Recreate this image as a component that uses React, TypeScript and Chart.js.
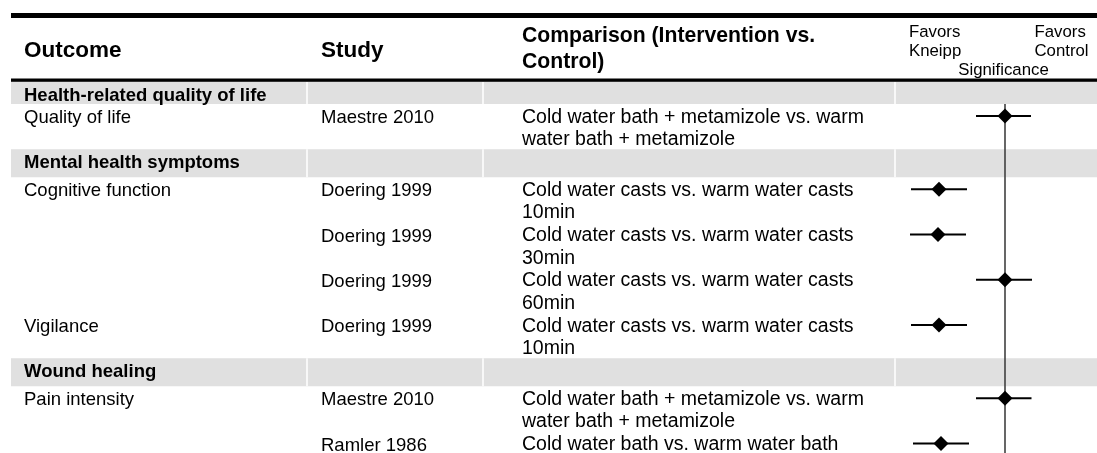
import React, { useEffect, useRef } from "react";
import { Chart, registerables } from "chart.js";

Chart.register(...registerables);

const W = 1097;
const H = 453;

// ---- data ----
const sections = ["Health-related quality of life", "Mental health symptoms", "Wound healing"];
const rowSection = [0, 1, 1, 1, 1, 2, 2];
const outcomes = ["Quality of life", "Cognitive function", "", "", "Vigilance", "Pain intensity", ""];
const studies = [
  "Maestre 2010",
  "Doering 1999",
  "Doering 1999",
  "Doering 1999",
  "Doering 1999",
  "Maestre 2010",
  "Ramler 1986",
];
const comparisons = [
  ["Cold water bath + metamizole vs. warm", "water bath + metamizole"],
  ["Cold water casts vs. warm water casts", "10min"],
  ["Cold water casts vs. warm water casts", "30min"],
  ["Cold water casts vs. warm water casts", "60min"],
  ["Cold water casts vs. warm water casts", "10min"],
  ["Cold water bath + metamizole vs. warm", "water bath + metamizole"],
  ["Cold water bath vs. warm water bath"],
];
const estimates = [0, -0.66, -0.67, 0, -0.66, 0, -0.64];
const lower = [-0.29, -0.94, -0.95, -0.29, -0.94, -0.29, -0.92];
const upper = [0.26, -0.38, -0.39, 0.27, -0.38, 0.265, -0.36];
const columnHeaders = ["Outcome", "Study"];
const comparisonHeader = ["Comparison (Intervention vs.", "Control)"];
const favorsLeft = ["Favors", "Kneipp"];
const favorsRight = ["Favors", "Control"];
const significanceLabel = "Significance";

// ---- layout / style ----
const FONT = '"Liberation Sans", Arial, Helvetica, sans-serif';
const COLS = [24, 321, 522];
const BAND_COLOR = "#e0e0e0";
const SEPARATORS = [307, 483, 895];

function computeLayout() {
  let y = 82;
  const bandTops: number[] = [];
  const bandHeights: number[] = [];
  const rowTops: number[] = [];
  let last = -1;
  rowSection.forEach((s) => {
    if (s !== last) {
      const h = bandTops.length === 0 ? 22 : 28;
      bandTops.push(y);
      bandHeights.push(h);
      y += h;
      last = s;
    }
    rowTops.push(y);
    y += 45.25;
  });
  return { bandTops, bandHeights, rowTops };
}

const LAYOUT = computeLayout();

const tablePlugin = {
  id: "tablePlugin",
  beforeDraw(chart: any) {
    const ctx = chart.ctx as CanvasRenderingContext2D;
    ctx.save();
    ctx.fillStyle = "#ffffff";
    ctx.fillRect(0, 0, W, H);

    // bands
    LAYOUT.bandTops.forEach((top, i) => {
      const h = LAYOUT.bandHeights[i];
      ctx.fillStyle = BAND_COLOR;
      ctx.fillRect(11, top, W - 11, h);
      ctx.fillStyle = "#ffffff";
      SEPARATORS.forEach((sx) => ctx.fillRect(sx - 0.75, top, 1.5, h));
    });

    // rules
    ctx.fillStyle = "#000000";
    ctx.fillRect(11, 13, W - 11, 5);
    ctx.fillRect(11, 78.5, W - 11, 3.3);

    ctx.textBaseline = "alphabetic";
    ctx.textAlign = "left";
    ctx.fillStyle = "#000000";

    // header
    ctx.font = `bold 22.5px ${FONT}`;
    ctx.fillText(columnHeaders[0], COLS[0], 57);
    ctx.fillText(columnHeaders[1], COLS[1], 57);
    ctx.font = `bold 21.2px ${FONT}`;
    ctx.fillText(comparisonHeader[0], COLS[2], 41.5);
    ctx.fillText(comparisonHeader[1], COLS[2], 68);

    ctx.font = `16.8px ${FONT}`;
    ctx.fillText(favorsLeft[0], 909, 36.5);
    ctx.fillText(favorsLeft[1], 909, 55.5);
    ctx.fillText(favorsRight[0], 1034.5, 36.5);
    ctx.fillText(favorsRight[1], 1034.5, 55.5);
    ctx.textAlign = "center";
    ctx.fillText(significanceLabel, 1003.5, 74.5);
    ctx.textAlign = "left";

    // sections
    ctx.font = `bold 18.5px ${FONT}`;
    LAYOUT.bandTops.forEach((top, i) => {
      ctx.fillText(sections[i], COLS[0], top + 18.8);
    });

    // rows
    LAYOUT.rowTops.forEach((top, i) => {
      ctx.font = `18.5px ${FONT}`;
      if (outcomes[i]) ctx.fillText(outcomes[i], COLS[0], top + 19);
      ctx.fillText(studies[i], COLS[1], top + 19);
      ctx.font = `19.5px ${FONT}`;
      comparisons[i].forEach((line, j) => {
        ctx.fillText(line, COLS[2], top + 18.5 + j * 22.5);
      });
    });
    ctx.restore();
  },
  beforeDatasetsDraw(chart: any) {
    const ctx = chart.ctx as CanvasRenderingContext2D;
    const xs = chart.scales.x;
    const ys = chart.scales.y;
    ctx.save();
    // significance line
    const x0 = Math.round(xs.getPixelForValue(0));
    ctx.strokeStyle = "#404040";
    ctx.lineWidth = 1.6;
    ctx.beginPath();
    ctx.moveTo(x0, LAYOUT.rowTops[0]);
    ctx.lineTo(x0, H);
    ctx.stroke();
    // confidence intervals
    ctx.strokeStyle = "#000000";
    ctx.lineWidth = 2;
    LAYOUT.rowTops.forEach((top, i) => {
      const y = ys.getPixelForValue(top + 12);
      ctx.beginPath();
      ctx.moveTo(xs.getPixelForValue(lower[i]), y);
      ctx.lineTo(xs.getPixelForValue(upper[i]), y);
      ctx.stroke();
    });
    ctx.restore();
  },
};

export default function App() {
  const ref = useRef<HTMLCanvasElement | null>(null);
  useEffect(() => {
    document.body.style.margin = "0";
    const canvas = ref.current;
    if (!canvas) return;
    const chart = new Chart(canvas, {
      type: "scatter",
      data: {
        datasets: [
          {
            data: estimates.map((e, i) => ({ x: e, y: LAYOUT.rowTops[i] + 12 })),
            pointStyle: "rectRot",
            pointRadius: 7.5,
            pointHoverRadius: 7.5,
            backgroundColor: "#000000",
            borderColor: "#000000",
            borderWidth: 0,
          },
        ],
      },
      options: {
        animation: false,
        responsive: false,
        devicePixelRatio: 1,
        events: [],
        layout: { autoPadding: false, padding: { left: 895, right: 0, top: 0, bottom: 0 } },
        plugins: { legend: { display: false }, tooltip: { enabled: false } },
        scales: {
          x: { type: "linear", min: -1.1, max: 0.92, display: false },
          y: { type: "linear", min: 0, max: H, reverse: true, display: false },
        },
      },
      plugins: [tablePlugin],
    });
    return () => chart.destroy();
  }, []);
  return (
    <div style={{ width: W, height: H, overflow: "hidden" }}>
      <canvas ref={ref} width={W} height={H} style={{ display: "block", width: W, height: H }} />
    </div>
  );
}
